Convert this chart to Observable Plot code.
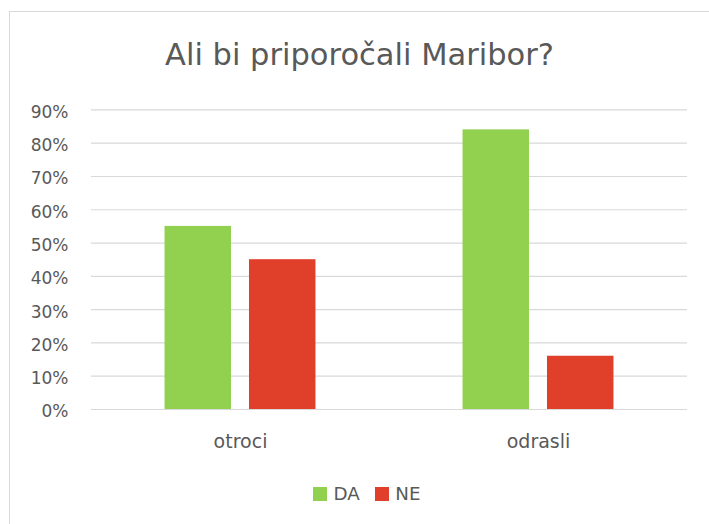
<!DOCTYPE html>
<html><head><meta charset="utf-8">
<script src="https://cdn.jsdelivr.net/npm/d3@7"></script>
<script src="https://cdn.jsdelivr.net/npm/@observablehq/plot@0.6"></script>
<style>
html,body{margin:0;padding:0;background:#fff;overflow:hidden;width:709px;height:524px;}
body{font-family:"DejaVu Sans",sans-serif;position:relative;}
#frame{position:absolute;left:9px;top:11px;width:760px;height:600px;border-left:1px solid #d9d9d9;border-top:1px solid #d9d9d9;box-sizing:border-box;}
#title{position:absolute;left:0;width:719px;top:40px;text-align:center;font-size:30.5px;line-height:30.5px;color:#595959;white-space:nowrap;}
#chart{position:absolute;left:0;top:0;}
#legend{position:absolute;left:313px;top:487px;display:flex;align-items:flex-start;font-size:18.3px;line-height:14px;color:#595959;}
.sw{width:14px;height:14px;display:inline-block;}
.lab{margin-left:6.5px;margin-right:15px;}
</style></head>
<body>
<div id="frame"></div>
<div id="title">Ali bi priporočali Maribor?</div>
<div id="chart"></div>
<div id="legend"></div>
<script>
const categories = ["otroci", "odrasli"];
const series = ["DA", "NE"];
const daValues = [55, 84];
const neValues = [45, 16];
const yTicks = [0, 10, 20, 30, 40, 50, 60, 70, 80, 90];
const colors = ["#92d050", "#e03f2a"];

const data = [];
categories.forEach((c, i) => {
  data.push({category: c, series: "DA", value: daValues[i]});
  data.push({category: c, series: "NE", value: neValues[i]});
});

const chart = Plot.plot({
  width: 709,
  height: 524,
  marginTop: 109.4,
  marginBottom: 115,
  marginLeft: 90,
  marginRight: 22,
  style: {fontFamily: "DejaVu Sans", background: "transparent", color: "#595959", overflow: "visible"},
  fx: {domain: categories, padding: 0, label: null},
  x: {domain: series, paddingInner: 0.2128, paddingOuter: 0.8707, round: false, axis: null},
  y: {domain: [0, 90], label: null},
  color: {domain: series, range: colors},
  marks: [
    Plot.gridY(yTicks, {stroke: "#d9d9d9", strokeOpacity: 1, strokeWidth: 1.2}),
    Plot.axisY(yTicks, {tickFormat: d => d + "%", tickSize: 0, tickPadding: 23, fontSize: 17, dy: 2.5, label: null}),
    Plot.axisFx({anchor: "bottom", tickSize: 0, tickPadding: 24.5, fontSize: 19, label: null}),
    Plot.barY(data, {fx: "category", x: "series", y: "value", fill: "series"})
  ]
});
document.getElementById("chart").appendChild(chart);

const legend = document.getElementById("legend");
series.forEach((s, i) => {
  const sw = document.createElement("span");
  sw.className = "sw";
  sw.style.background = colors[i];
  const lab = document.createElement("span");
  lab.className = "lab";
  lab.textContent = s;
  legend.appendChild(sw);
  legend.appendChild(lab);
});
</script>
</body></html>
